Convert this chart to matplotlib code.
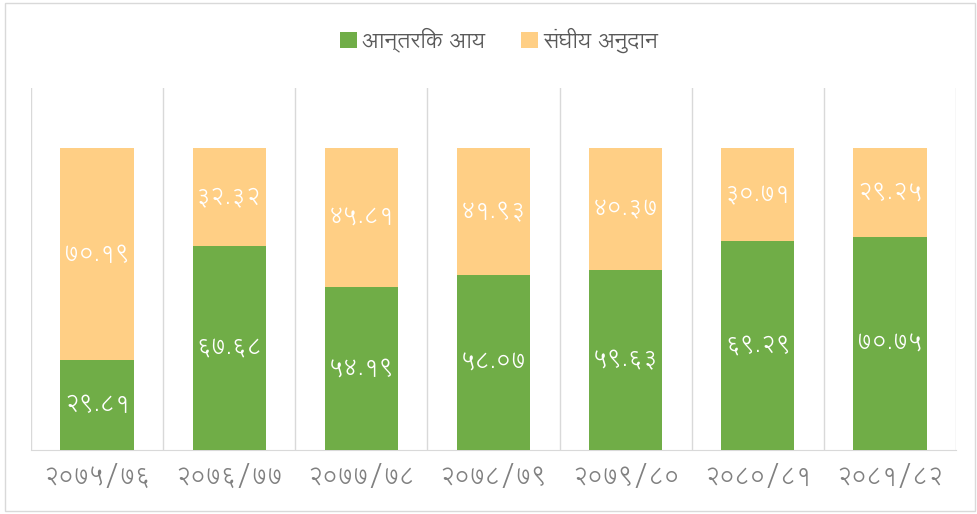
import os
import matplotlib
matplotlib.use("Agg")
import matplotlib.pyplot as plt
from matplotlib import font_manager
from matplotlib.patches import Rectangle

# data (percent share)
years = ['२०७५/७६', '२०७६/७७', '२०७७/७८', '२०७८/७९', '२०७९/८०', '२०८०/८१', '२०८१/८२']
internal = [29.81, 67.68, 54.19, 58.07, 59.63, 69.29, 70.75]
grant = [70.19, 32.32, 45.81, 41.93, 40.37, 30.71, 29.25]
series_names = ['आन्तरिक आय', 'संघीय अनुदान']

GREEN = '#70AD47'
PEACH = '#FFCF85'

#devanagari font, fall back to dejavu if missing
deva_family = 'DejaVu Sans'
for path in ['/usr/share/fonts/truetype/google-fonts/Lohit-Devanagari.ttf',
             '/usr/share/fonts/truetype/google-fonts/NotoSansDevanagariUI-Light.ttf']:
    if os.path.exists(path):
        font_manager.fontManager.addfont(path)
        deva_family = font_manager.FontProperties(fname=path).get_name()
        break
plt.rcParams['font.family'] = [deva_family, 'DejaVu Sans']

def to_deva(s):
    return s.translate(str.maketrans('0123456789', '०१२३४५६७८९'))

W, H = 978, 514
fig = plt.figure(figsize=(W / 100, H / 100), dpi=100)
ax = fig.add_axes([31 / W, 1 - 450 / H, (956 - 31) / W, (450 - 88) / H])

x = range(len(years))
bw = 0.555
ax.bar(x, internal, bw, color=GREEN, label=series_names[0], zorder=3)
ax.bar(x, grant, bw, bottom=internal, color=PEACH, label=series_names[1], zorder=3)

for i in x:
    ax.text(i, internal[i] / 2, to_deva(f"{internal[i]:.2f}"), ha='center', va='center',
            color='white', fontsize=16.5, zorder=4)
    ax.text(i, internal[i] + grant[i] / 2, to_deva(f"{grant[i]:.2f}"), ha='center', va='center',
            color='white', fontsize=16.5, zorder=4)

ax.set_xlim(-0.5, len(years) - 0.5)
ax.set_ylim(0, 120)
ax.set_yticks([])
ax.set_xticks(list(x))
ax.set_xticklabels(years, fontsize=17, color='#808080')
ax.tick_params(axis='x', length=0, pad=10)
for b in [i - 0.5 for i in range(len(years) + 1)]:
    ax.axvline(b, color='#d9d9d9', lw=1, zorder=1)
for s in ['top', 'left', 'right']:
    ax.spines[s].set_visible(False)
ax.spines['bottom'].set_color('#d9d9d9')

leg = fig.legend(loc='center', bbox_to_anchor=(499 / W, 1 - 40 / H), ncol=2, frameon=False,
                 handlelength=0.75, handleheight=0.75, handletextpad=0.25, columnspacing=1.6,
                 fontsize=16)
for t in leg.get_texts():
    t.set_color('#595959')

# outer chart border
fig.patches.append(Rectangle((5 / W, 3 / H), 970 / W, 508 / H, transform=fig.transFigure,
                             fill=False, edgecolor='#d9d9d9', lw=1))

fig.savefig('out.png', dpi=100)
